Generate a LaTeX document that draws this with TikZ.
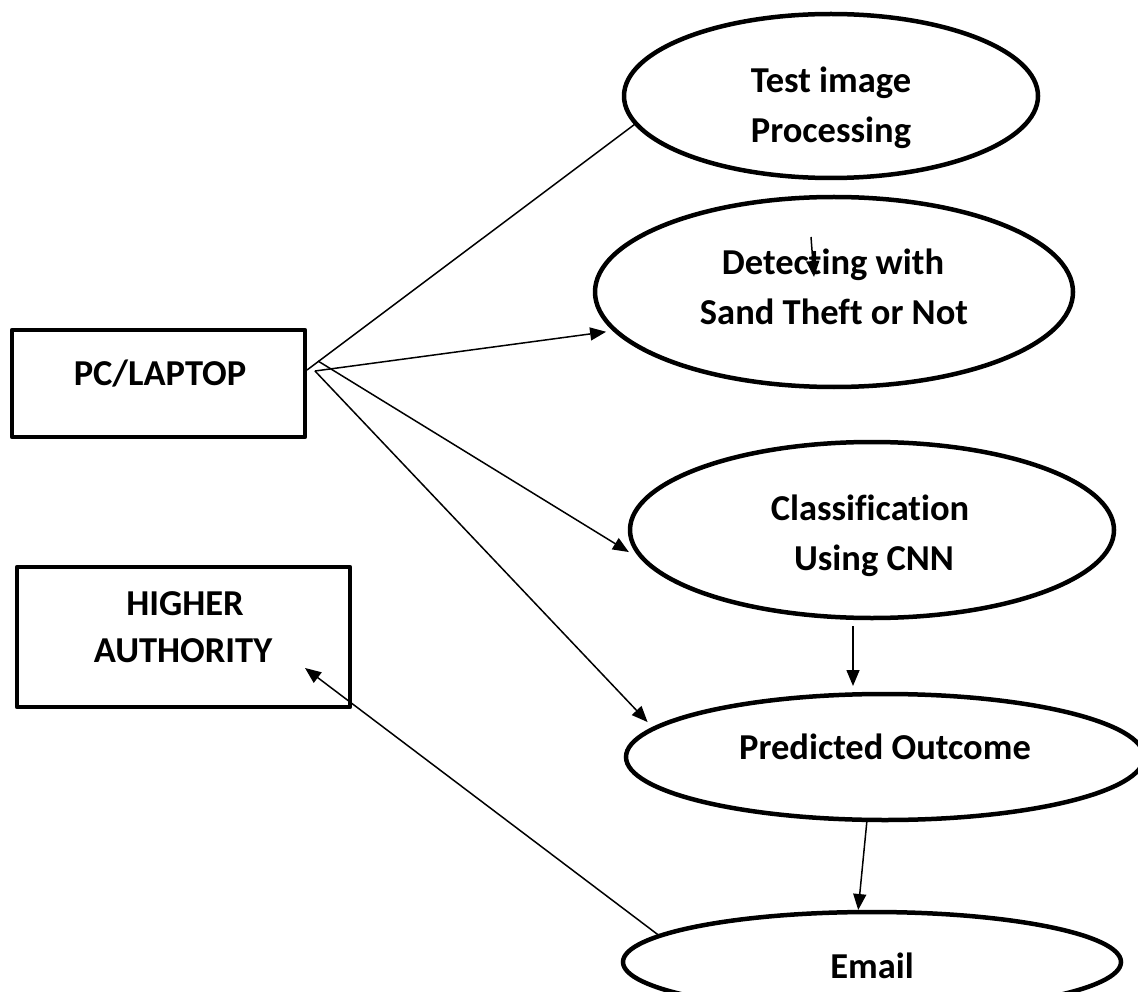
\documentclass[tikz,border=0pt]{standalone}
\usepackage{fontspec}
\setmainfont{Carlito}[Ligatures=NoCommon]
\usetikzlibrary{shapes.geometric,arrows.meta}
\begin{document}
\begin{tikzpicture}[x=1pt,y=-1pt,
  oval/.style={draw,ellipse,line width=4.5pt,inner sep=0pt,outer sep=0pt},
  box/.style={draw,rectangle,line width=4.5pt,line join=round,inner sep=0pt,outer sep=0pt},
  lbl/.style={font=\fontsize{36.5}{50}\selectfont\bfseries,anchor=base,inner sep=0pt},
  conn/.style={line width=1.5pt},
  arr/.style={conn,-{Triangle[length=16pt,width=13pt]}}]
\useasboundingbox (0,0) rectangle (1138,992);
\clip (0,0) rectangle (1138,992);
\fill[white] (0,0) rectangle (1138,992);

% shapes
\node[oval,minimum width=414pt,minimum height=164pt] (test) at (831,96) {};
\node[oval,minimum width=478pt,minimum height=190pt] (det) at (834,292) {};
\node[oval,minimum width=484pt,minimum height=176pt] (cls) at (872,530) {};
\node[oval,minimum width=518pt,minimum height=126pt] (pred) at (885,757) {};
\node[oval,minimum width=498pt,minimum height=100pt] (email) at (872,962) {};
\node[box,minimum width=293pt,minimum height=107pt] (pc) at (158.5,383.5) {};
\node[box,minimum width=333pt,minimum height=140pt] (hi) at (183.5,637) {};

% texts
\node[lbl] (testA) at (831,93) {Test image};
\node[lbl] (testB) at (831,143) {Processing};
\node[lbl] (detA) at (833,275) {Detecting with};
\node[lbl] (detB) at (834,325) {Sand Theft or Not};
\node[lbl] (pcT) at (160,385) {PC/LAPTOP};
\node[lbl] (clsA) at (870,520) {Classification};
\node[lbl] (clsB) at (874,570) {Using CNN};
\node[lbl] (hiA) at (185,615) {HIGHER};
\node[lbl] (hiB) at (183,662) {AUTHORITY};
\node[lbl] (predT) at (885,759) {Predicted Outcome};
\node[lbl] (emT) at (872,978) {Email};

% connectors
\draw[conn] ([shift={(2,-13.5)}]pc.east) -- (test.188);
\draw[arr,shorten >=9.5pt] ([shift={(10,-12.5)}]pc.east) -- (det.190.4);
\draw[arr,shorten >=25pt] ([shift={(13,-22.5)}]pc.east) -- (cls.189);
\draw[arr,shorten >=9pt] ([shift={(10,-12.5)}]pc.east) -- (pred.173);
\draw[arr] ([shift={(-23,-55)}]det.center) -- ([shift={(-20,-15)}]det.center);
\draw[arr,shorten <=8pt,shorten >=8pt] ([xshift=-19pt]cls.south) -- ([xshift=-32pt]pred.north);
\draw[arr,shorten >=2pt] ([xshift=-18pt]pred.south) -- ([xshift=-14pt]email.north);
\draw[arr] (email.173) -- ([shift={(121.5,31)}]hi.center);
\end{tikzpicture}
\end{document}
